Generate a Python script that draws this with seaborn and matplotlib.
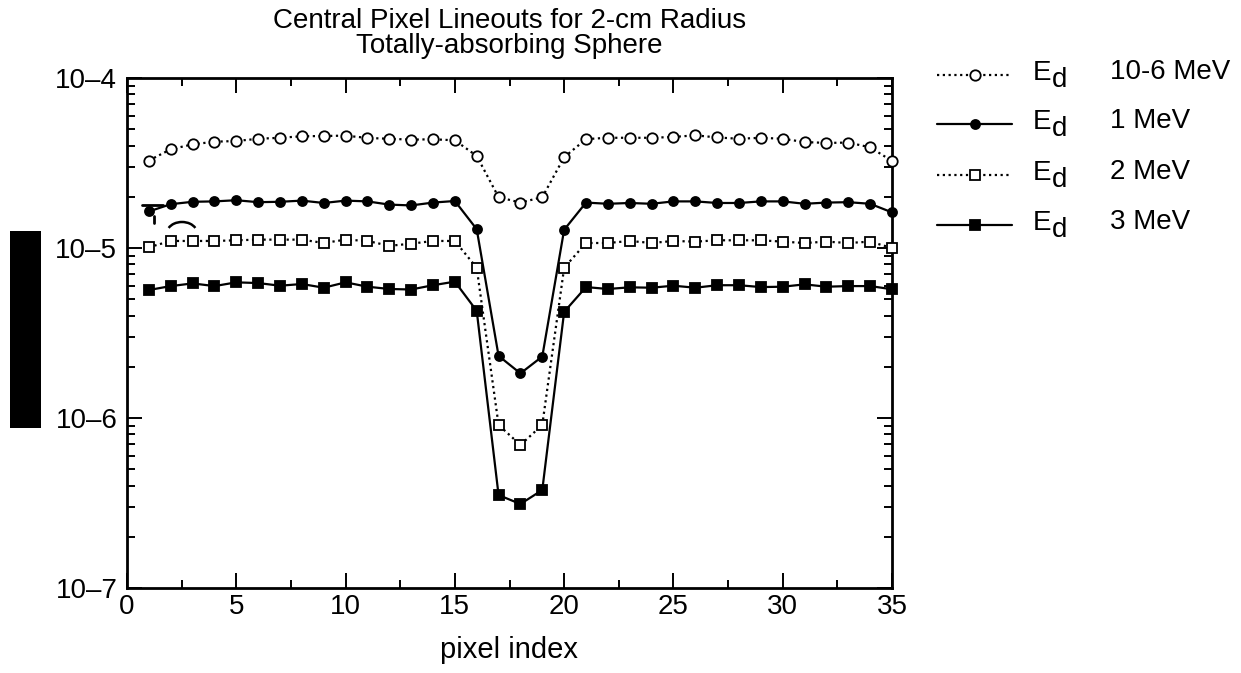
import numpy as np
import pandas as pd
import matplotlib
matplotlib.use('Agg')
import matplotlib.pyplot as plt
import seaborn as sns
from matplotlib.lines import Line2D
from matplotlib.patches import Rectangle, Arc
from matplotlib.ticker import LogLocator, NullFormatter, FixedLocator, FixedFormatter, MultipleLocator

# pixel index along the lineout
pixel = list(range(1, 36))

# Ed = 10-6 MeV (open circles, dotted)
e_low = [3.27e-5, 3.81e-5, 4.07e-5, 4.22e-5, 4.26e-5, 4.39e-5, 4.45e-5, 4.54e-5, 4.56e-5, 4.58e-5,
         4.44e-5, 4.39e-5, 4.34e-5, 4.36e-5, 4.30e-5, 3.48e-5, 1.99e-5, 1.85e-5, 1.99e-5, 3.42e-5,
         4.37e-5, 4.45e-5, 4.45e-5, 4.45e-5, 4.50e-5, 4.60e-5, 4.47e-5, 4.39e-5, 4.45e-5, 4.39e-5,
         4.20e-5, 4.15e-5, 4.17e-5, 3.91e-5, 3.25e-5]
# Ed = 1 MeV (filled circles, solid)
e_1 = [1.64e-5, 1.81e-5, 1.87e-5, 1.88e-5, 1.91e-5, 1.86e-5, 1.87e-5, 1.90e-5, 1.84e-5, 1.90e-5,
       1.88e-5, 1.80e-5, 1.78e-5, 1.85e-5, 1.89e-5, 1.29e-5, 2.32e-6, 1.83e-6, 2.30e-6, 1.28e-5,
       1.85e-5, 1.82e-5, 1.84e-5, 1.82e-5, 1.88e-5, 1.88e-5, 1.84e-5, 1.84e-5, 1.88e-5, 1.88e-5,
       1.82e-5, 1.85e-5, 1.86e-5, 1.82e-5, 1.62e-5]
# Ed = 2 MeV (open squares, dotted)
e_2 = [1.01e-5, 1.10e-5, 1.10e-5, 1.10e-5, 1.11e-5, 1.12e-5, 1.12e-5, 1.12e-5, 1.07e-5, 1.12e-5,
       1.10e-5, 1.03e-5, 1.06e-5, 1.10e-5, 1.10e-5, 7.65e-6, 9.1e-7, 6.94e-7, 9.1e-7, 7.65e-6,
       1.07e-5, 1.07e-5, 1.10e-5, 1.07e-5, 1.10e-5, 1.09e-5, 1.11e-5, 1.11e-5, 1.11e-5, 1.09e-5,
       1.07e-5, 1.09e-5, 1.07e-5, 1.09e-5, 1.00e-5]
# Ed = 3 MeV (filled squares, solid)
e_3 = [5.66e-6, 5.97e-6, 6.19e-6, 5.97e-6, 6.28e-6, 6.22e-6, 6.00e-6, 6.14e-6, 5.84e-6, 6.28e-6,
       5.92e-6, 5.74e-6, 5.70e-6, 6.04e-6, 6.34e-6, 4.27e-6, 3.52e-7, 3.12e-7, 3.77e-7, 4.21e-6,
       5.89e-6, 5.74e-6, 5.87e-6, 5.84e-6, 6.00e-6, 5.84e-6, 6.04e-6, 6.04e-6, 5.89e-6, 5.92e-6,
       6.11e-6, 5.92e-6, 5.97e-6, 5.97e-6, 5.72e-6]

energies = ['10-6 MeV', '1 MeV', '2 MeV', '3 MeV']
yticks = [1e-7, 1e-6, 1e-5, 1e-4]
ytick_labels = ['10\u20137', '10\u20136', '10\u20135', '10\u20134']
xticks = [0, 5, 10, 15, 20, 25, 30, 35]

sns.set_style('white')
plt.rcParams['font.family'] = ['Liberation Sans', 'DejaVu Sans']
plt.rcParams.update({'text.color': 'black', 'axes.labelcolor': 'black',
                     'xtick.color': 'black', 'ytick.color': 'black'})

W, H = 1241, 673
fig = plt.figure(figsize=(W / 100, H / 100), dpi=100)
ax = fig.add_axes([127 / W, 1 - 588 / H, (892 - 127) / W, (588 - 78) / H])

dot = (0, (1, 1.6))
styles = [
    dict(marker='o', linestyle=dot, mfc='white', ms=7.5),
    dict(marker='o', linestyle='-', mfc='black', ms=6.5),
    dict(marker='s', linestyle=dot, mfc='white', ms=7),
    dict(marker='s', linestyle='-', mfc='black', ms=7),
]
for vals, st in zip([e_low, e_1, e_2, e_3], styles):
    df = pd.DataFrame({'pixel': pixel, 'flux': vals})
    sns.lineplot(data=df, x='pixel', y='flux', ax=ax, color='black', lw=1.6,
                 mec='black', mew=1.3, clip_on=False, zorder=3, **st)

ax.set_yscale('log')
ax.set_xlim(0, 35)
ax.set_ylim(1e-7, 1e-4)
ax.yaxis.set_major_locator(FixedLocator(yticks))
ax.yaxis.set_major_formatter(FixedFormatter(ytick_labels))
ax.yaxis.set_minor_locator(LogLocator(base=10, subs=np.arange(2, 10)))
ax.yaxis.set_minor_formatter(NullFormatter())
ax.set_xticks(xticks)
ax.xaxis.set_minor_locator(MultipleLocator(2.5))

ax.tick_params(which='both', direction='in', top=True, right=True, bottom=True, left=True,
               width=1.4, colors='black')
ax.tick_params(which='major', length=11, labelsize=20)
ax.tick_params(which='minor', length=6)
ax.tick_params(axis='y', which='major', pad=7)
ax.tick_params(axis='x', which='major', pad=4)
for sp in ax.spines.values():
    sp.set_linewidth(2)
    sp.set_color('black')

ax.set_xlabel('pixel index', fontsize=21, labelpad=12)
ax.set_ylabel('')
ax.set_title('Central Pixel Lineouts for 2-cm Radius\nTotally-absorbing Sphere',
             fontsize=20, pad=18, linespacing=0.95, color='black')


def fp(x, y):
    return (x / W, 1 - y / H)


# legend drawn by hand
rows = [75, 124, 175, 225]
for (lbl, st, yy) in zip(energies, styles, rows):
    fig.add_artist(Line2D([937 / W, 1012 / W], [1 - yy / H] * 2, transform=fig.transFigure,
                          color='black', lw=1.6, linestyle=st['linestyle']))
    fig.add_artist(Line2D([975 / W], [1 - yy / H], transform=fig.transFigure, marker=st['marker'],
                          mfc=st['mfc'], mec='black', mew=1.3, ms=st['ms'], linestyle='none'))
    fig.text(*fp(1033, yy - 2), 'E', fontsize=20, va='center', ha='left')
    fig.text(*fp(1052, yy + 5), 'd', fontsize=20, va='center', ha='left')
    fig.text(*fp(1110, yy - 3), lbl, fontsize=20, va='center', ha='left')

# clipped y-label remnants at the left edge
fig.add_artist(Rectangle(fp(10, 428), 31 / W, (428 - 231) / H, transform=fig.transFigure,
                         color='black', lw=0))
fig.add_artist(Line2D([142 / W, 163 / W], [1 - 205 / H] * 2, transform=fig.transFigure,
                      color='black', lw=2))
fig.add_artist(Line2D([154 / W, 154 / W], [1 - 216 / H, 1 - 223 / H], transform=fig.transFigure,
                      color='black', lw=2))
fig.add_artist(Arc(fp(182, 233), 30 / W, 22 / H, theta1=35, theta2=145,
                   transform=fig.transFigure, color='black', lw=1.8))

fig.savefig('out.png', dpi=100)
